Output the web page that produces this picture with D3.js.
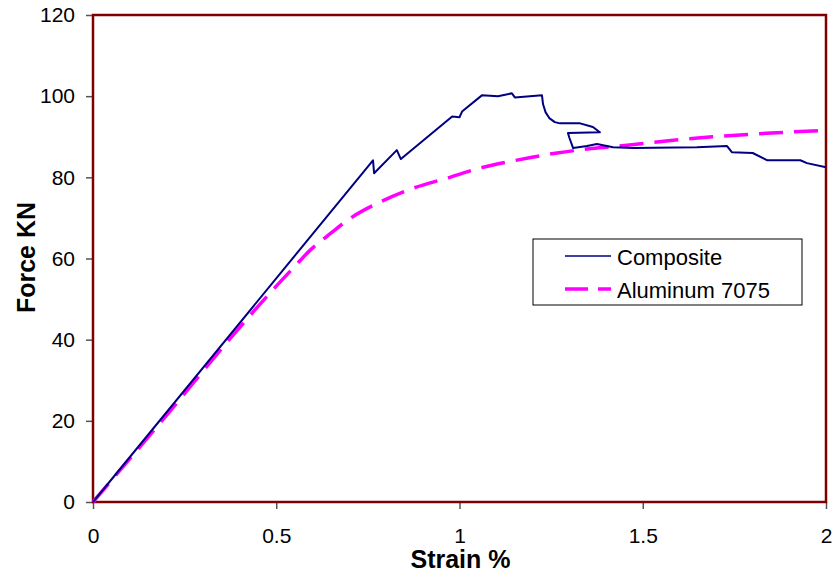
<!DOCTYPE html>
<html>
<head>
<meta charset="utf-8">
<script src="https://cdn.jsdelivr.net/npm/d3@7"></script>
<style>
  body { margin: 0; background: #fff; }
  text { font-family: "Liberation Sans", Arial, sans-serif; }
</style>
</head>
<body>
<div id="chart"></div>
<script>
// composite curve [strain %, force kN]
let compositeStrain = [0, 0.764, 0.767, 0.829, 0.84, 0.98, 1.0, 1.007, 1.061, 1.105, 1.143, 1.151, 1.225, 1.228, 1.235, 1.245, 1.26, 1.274, 1.329, 1.364, 1.383, 1.296, 1.30, 1.31, 1.348, 1.375, 1.419, 1.473, 1.648, 1.73, 1.743, 1.80, 1.84, 1.93, 1.948, 2.0]
let compositeForce = [0, 84.2, 81, 86.7, 84.5, 95, 94.8, 96.2, 100.2, 100, 100.7, 99.7, 100.2, 98, 96, 94.6, 93.6, 93.3, 93.3, 92.4, 91.1, 90.9, 89.7, 87.2, 87.7, 88.2, 87.4, 87.2, 87.4, 87.7, 86.2, 86, 84.2, 84.2, 83.5, 82.5]

let aluStrain = [0, 0.2, 0.4, 0.483, 0.55, 0.592, 0.65, 0.697, 0.783, 0.873, 0.966, 1.056, 1.16, 1.266, 1.36, 1.457, 1.57, 1.69, 1.85, 2.0]
let aluForce = [0, 21.3, 43, 51.5, 58, 62, 66.3, 69.6, 73.9, 77.3, 79.8, 82.3, 84.3, 86, 87.1, 87.9, 89, 90, 90.9, 91.6]

let xTicks = [0, 0.5, 1, 1.5, 2]
let yTicks = [0, 20, 40, 60, 80, 100, 120]
let seriesNames = ['Composite', 'Aluminum 7075']

let margin = { top: 15, left: 93, right: 9, bottom: 71 }
let width = 835 - margin.left - margin.right
let height = 573 - margin.top - margin.bottom

let svg = d3
  .select('#chart')
  .append('svg')
  .attr('width', 835)
  .attr('height', 573)
  .append('g')
  .attr('transform', 'translate(' + margin.left + ',' + margin.top + ')')

let x = d3.scaleLinear().domain([0, 2]).range([0, width])
let y = d3.scaleLinear().domain([0, 120]).range([height, 0])

// axes
svg.append('g')
  .attr('transform', 'translate(0,' + height + ')')
  .call(d3.axisBottom(x).tickValues(xTicks).tickSize(7).tickPadding(19).tickFormat(d3.format('')))
svg.append('g')
  .call(d3.axisLeft(y).tickValues(yTicks).tickSize(7).tickPadding(11))

svg.selectAll('.domain').remove()
svg.selectAll('.tick line').attr('stroke', '#555').attr('stroke-width', 1.5)
svg.selectAll('.tick text')
  .attr('font-size', '21px')
  .attr('fill', '#000')
  .attr('font-family', '"Liberation Sans", Arial, sans-serif')

// plot frame
svg.append('rect')
  .attr('x', 0)
  .attr('y', 0)
  .attr('width', width)
  .attr('height', height)
  .attr('fill', 'none')
  .attr('stroke', '#800000')
  .attr('stroke-width', 2.5)

let line = d3.line()
  .x(d => x(d[0]))
  .y(d => y(d[1]))

let aluData = aluStrain.map((s, i) => [s, aluForce[i]])
let compData = compositeStrain.map((s, i) => [s, compositeForce[i]])

svg.append('path')
  .datum(aluData)
  .attr('d', line.curve(d3.curveMonotoneX))
  .attr('fill', 'none')
  .attr('stroke', '#ff00ff')
  .attr('stroke-width', 3.5)
  .attr('stroke-dasharray', '24,11')

svg.append('path')
  .datum(compData)
  .attr('d', line.curve(d3.curveLinear))
  .attr('fill', 'none')
  .attr('stroke', '#000080')
  .attr('stroke-width', 2)
  .attr('stroke-linejoin', 'round')

// axis titles
svg.append('text')
  .text('Strain %')
  .attr('x', width / 2 + 1)
  .attr('y', height + 66)
  .attr('text-anchor', 'middle')
  .attr('font-size', '25px')
  .attr('font-weight', 'bold')

svg.append('text')
  .text('Force KN')
  .attr('transform', 'translate(' + (-58) + ',' + (height / 2 - 1) + ') rotate(-90)')
  .attr('text-anchor', 'middle')
  .attr('font-size', '25px')
  .attr('font-weight', 'bold')

// legend
let legend = svg.append('g')
  .attr('transform', 'translate(' + (533 - margin.left) + ',' + (239 - margin.top) + ')')

legend.append('rect')
  .attr('width', 269)
  .attr('height', 66)
  .attr('fill', '#fff')
  .attr('stroke', '#000')
  .attr('stroke-width', 1)

legend.selectAll('line')
  .data(seriesNames)
  .enter()
  .append('line')
  .attr('x1', 32)
  .attr('x2', 78)
  .attr('y1', (d, i) => 17 + i * 33)
  .attr('y2', (d, i) => 17 + i * 33)
  .attr('stroke', (d, i) => i == 0 ? '#000080' : '#ff00ff')
  .attr('stroke-width', (d, i) => i == 0 ? 1.5 : 3.5)
  .attr('stroke-dasharray', (d, i) => i == 0 ? null : '23,10')

legend.selectAll('.legend-label')
  .data(seriesNames)
  .enter()
  .append('text')
  .attr('class', 'legend-label')
  .text(d => d)
  .attr('x', 84)
  .attr('y', (d, i) => 26 + i * 33)
  .attr('font-size', '22px')
</script>
</body>
</html>
